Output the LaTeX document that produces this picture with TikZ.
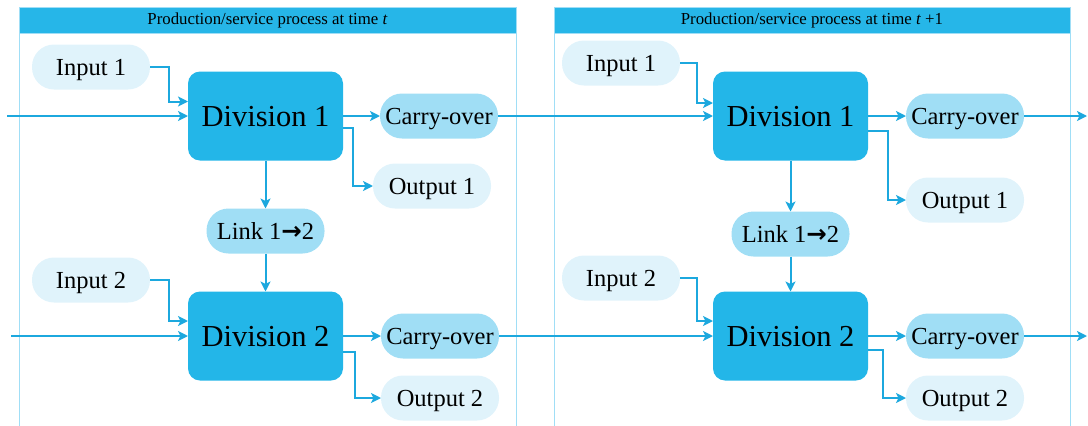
\documentclass[tikz,border=0pt]{standalone}
\usepackage{fontspec}
\setmainfont{Liberation Serif}
\newfontfamily\arrowfont{DejaVu Sans}
\usetikzlibrary{arrows.meta}

\definecolor{headblue}{RGB}{38,182,232}
\definecolor{divblue}{RGB}{35,182,232}
\definecolor{carryblue}{RGB}{160,222,245}
\definecolor{paleblue}{RGB}{224,243,251}
\definecolor{flowblue}{RGB}{28,168,222}
\definecolor{edgeblue}{RGB}{160,222,246}

\tikzset{
  divbox/.style={fill=divblue, rounded corners=12pt, minimum width=155pt,
    minimum height=89pt, inner sep=0pt, outer sep=0pt,
    text height=20pt, text depth=0pt,
    font=\fontsize{30.5}{32}\selectfont},
  pillbase/.style={rounded corners=22pt, minimum width=118pt,
    minimum height=45pt, inner sep=0pt, outer sep=0pt,
    text height=16pt, text depth=0pt,
    font=\fontsize{24.5}{26}\selectfont},
  inbox/.style={pillbase, fill=paleblue},
  carrybox/.style={pillbase, fill=carryblue},
  headtext/.style={font=\fontsize{16.8}{18}\selectfont, inner sep=0pt},
  flow/.style={draw=flowblue, line width=2pt,
    -{Stealth[length=10pt,width=10pt,inset=2.5pt]}},
  panelline/.style={draw=edgeblue, line width=1pt},
}

\begin{document}
\begin{tikzpicture}[x=1pt,y=-1pt]
\useasboundingbox (0,0) rectangle (1088,426);

% panel frames and title bars
\foreach \l/\r in {19.5/516, 554.5/1070}{
  \draw[panelline] (\l,7) -- (\l,426);
  \draw[panelline] (\r,7) -- (\r,426);
  \filldraw[fill=headblue, draw=edgeblue, line width=1pt] (\l,7) rectangle (\r,33);
}
\node[headtext] (hA) at (267.5,20) {Production/service process at time \textit{t}};
\node[headtext] (hB) at (812,20) {Production/service process at time \textit{t} +1};

% ---- period t ----
\node[inbox] (inA1) at (91,67) {Input 1};
\node[divbox] (dA1) at (265.5,116) {Division 1};
\node[carrybox] (cA1) at (439,116) {Carry-over};
\node[inbox] (oA1) at (432,186) {Output 1};
\node[carrybox] (lA) at (265.5,231) {Link 1{\arrowfont\bfseries →}2};
\node[inbox] (inA2) at (91,280) {Input 2};
\node[divbox] (dA2) at (265.5,336) {Division 2};
\node[carrybox] (cA2) at (440,336) {Carry-over};
\node[inbox] (oA2) at (440,398) {Output 2};

% ---- period t+1 ----
\node[inbox] (inB1) at (621,63) {Input 1};
\node[divbox] (dB1) at (790.5,116) {Division 1};
\node[carrybox] (cB1) at (965,116) {Carry-over};
\node[inbox] (oB1) at (965,200) {Output 1};
\node[carrybox] (lB) at (790.5,234) {Link 1{\arrowfont\bfseries →}2};
\node[inbox] (inB2) at (621,278) {Input 2};
\node[divbox] (dB2) at (790.5,336) {Division 2};
\node[carrybox] (cB2) at (965,336) {Carry-over};
\node[inbox] (oB2) at (965,398) {Output 2};

% loose ends of the carried-over flows
\coordinate (srcA1) at (7,116);
\coordinate (srcA2) at (11,336);
\coordinate (sinkB1) at (1087,116);
\coordinate (sinkB2) at (1087,336);

% flows in period t
\draw[flow] (srcA1) -- (dA1.west);
\draw[flow] (srcA2) -- (dA2.west);
\draw[flow] (inA1.east) -- ++(19,0) |- ([yshift=14.5pt]dA1.west);
\draw[flow] (inA2.east) -- ++(19,0) |- ([yshift=15pt]dA2.west);
\draw[flow] (dA1.east) -- (cA1.west);
\draw[flow] (dA2.east) -- (cA2.west);
\draw[flow] ([yshift=-12pt]dA1.east) -- ++(10,0) |- (oA1.west);
\draw[flow] ([yshift=-16pt]dA2.east) -- ++(12,0) |- (oA2.west);
\draw[flow] (dA1.south) -- (lA.north);
\draw[flow] (lA.south) -- (dA2.north);

% carry-over into period t+1
\draw[flow] (cA1.east) -- (dB1.west);
\draw[flow] (cA2.east) -- (dB2.west);

% flows in period t+1
\draw[flow] (inB1.east) -- ++(17,0) |- ([yshift=13pt]dB1.west);
\draw[flow] (inB2.east) -- ++(17,0) |- ([yshift=15pt]dB2.west);
\draw[flow] (dB1.east) -- (cB1.west);
\draw[flow] (dB2.east) -- (cB2.west);
\draw[flow] ([yshift=-15pt]dB1.east) -- ++(20,0) |- (oB1.west);
\draw[flow] ([yshift=-14pt]dB2.east) -- ++(15,0) |- (oB2.west);
\draw[flow] (dB1.south) -- (lB.north);
\draw[flow] (lB.south) -- (dB2.north);
\draw[flow] (cB1.east) -- (sinkB1);
\draw[flow] (cB2.east) -- (sinkB2);
\end{tikzpicture}
\end{document}
